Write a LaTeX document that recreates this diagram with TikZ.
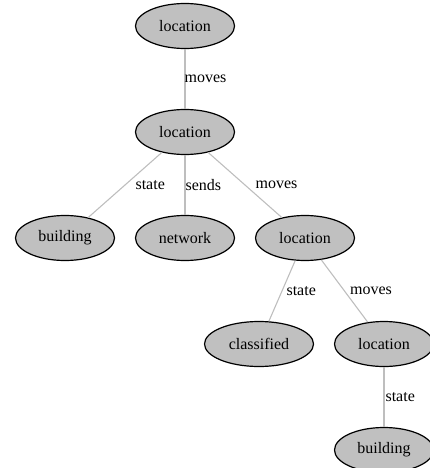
\documentclass[tikz,border=0pt]{standalone}
\usepackage{fontspec}
\setmainfont{Liberation Serif}
\usepackage{tikz}
\usepackage{xcolor}
\usetikzlibrary{shapes.geometric, positioning}
\definecolor{conceptgray}{RGB}{192, 192, 192}
\definecolor{relgray}{RGB}{190, 190, 190}
\tikzstyle{concept} = [ellipse, minimum width=99pt, minimum height=45pt, inner sep=0pt, text centered, draw=black, line width=1.2pt, fill=conceptgray, font=\fontsize{16}{19}\selectfont]
\tikzstyle{relation} = [draw=relgray, line width=1.1pt]
\tikzstyle{rellabel} = [anchor=west, inner sep=0pt, font=\fontsize{16}{19}\selectfont]

\begin{document}
\begin{tikzpicture}[x=1pt, y=-1pt]
        \useasboundingbox (0,0) rectangle (430,468);
        % Concepts
        \node[concept] (loca) at (185,26) {location};
        \node[concept] (locb) at (185,132) {location};
        \node[concept] (builda) at (65,238) {building};
        \node[concept] (net) at (185,238) {network};
        \node[concept] (locc) at (305,238) {location};
        \node[concept, minimum width=109pt] (classif) at (259,344) {classified};
        \node[concept] (locd) at (384,344) {location};
        \node[concept] (buildb) at (384,450) {building};
        
        % Relations
        \draw[relation] (loca) -- node[rellabel, xshift=-1pt] {moves} (locb);
        \draw[relation] (locb) -- node[rellabel, xshift=10pt] {state} (builda);
        \draw[relation] (locb) -- node[rellabel] {sends} (net);
        \draw[relation] (locb) -- node[rellabel, xshift=10pt] {moves} (locc);
        \draw[relation] (locc) -- node[rellabel, xshift=4pt] {state} (classif);
        \draw[relation] (locc) -- node[rellabel, xshift=5pt] {moves} (locd);
        \draw[relation] (locd) -- node[rellabel, xshift=1pt] {state} (buildb);
    \end{tikzpicture}
\end{document}
